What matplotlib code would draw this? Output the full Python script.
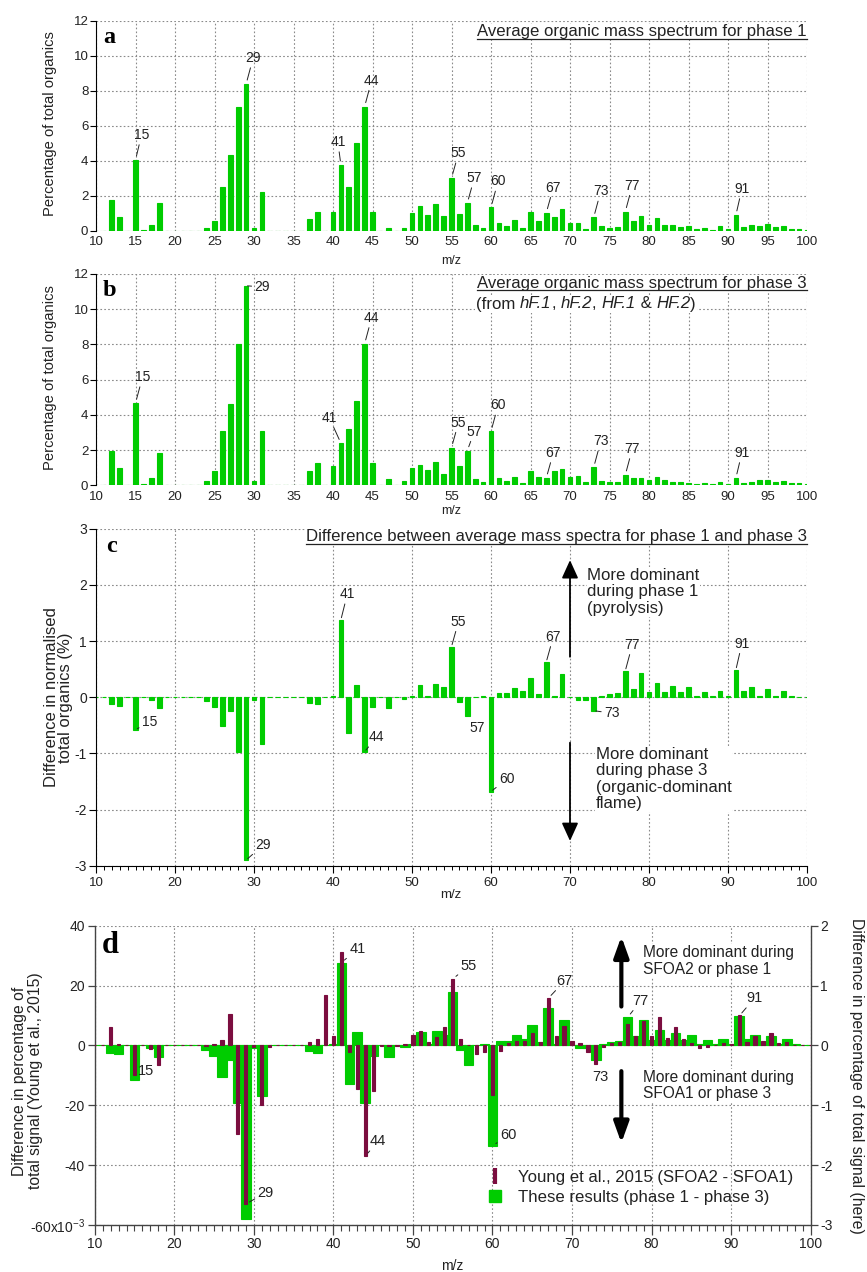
import numpy as np
import matplotlib
matplotlib.use('Agg')
import matplotlib.pyplot as plt
from matplotlib.lines import Line2D
from matplotlib.ticker import MultipleLocator, FuncFormatter
from matplotlib.offsetbox import TextArea, HPacker, AnnotationBbox

plt.rcParams['font.family'] = ['Liberation Sans', 'DejaVu Sans']
plt.rcParams['axes.unicode_minus'] = False
plt.rcParams['mathtext.fontset'] = 'custom'
plt.rcParams['mathtext.rm'] = 'Liberation Sans'
plt.rcParams['mathtext.it'] = 'Liberation Sans:italic'

# ---------------- data ----------------
mz = list(range(10, 101))

# a: average organic mass spectrum, phase 1 (% of total organics)
phase1 = [0, 0, 1.75, 0.76, 0, 4.04, 0.04, 0.32, 1.58, 0,
          0, 0, 0, 0, 0.13, 0.53, 2.5, 4.3, 7.09, 8.38,
          0.13, 2.19, 0, 0, 0, 0, 0, 0.65, 1.09, 0,
          1.09, 3.75, 2.5, 4.99, 7.09, 1.09, 0, 0.13, 0, 0.13,
          1.03, 1.39, 0.9, 1.52, 0.84, 3.0, 0.95, 1.58, 0.32, 0.15,
          1.33, 0.46, 0.27, 0.59, 0.15, 1.09, 0.53, 1.03, 0.76, 1.26,
          0.46, 0.46, 0.08, 0.76, 0.27, 0.15, 0.21, 1.09, 0.53, 0.84,
          0.32, 0.7, 0.32, 0.32, 0.21, 0.27, 0.08, 0.13, 0.04, 0.27,
          0.08, 0.9, 0.21, 0.32, 0.27, 0.38, 0.21, 0.27, 0.08, 0.08,
          0.04]

# b: average organic mass spectrum, phase 3
phase3 = [0, 0, 1.97, 0.97, 0, 4.67, 0.06, 0.4, 1.84, 0,
          0, 0, 0, 0, 0.23, 0.8, 3.07, 4.61, 8.03, 11.33,
          0.25, 3.07, 0, 0, 0, 0, 0, 0.8, 1.29, 0,
          1.1, 2.39, 3.19, 4.8, 8.03, 1.29, 0, 0.34, 0, 0.25,
          0.97, 1.16, 0.85, 1.35, 0.66, 2.14, 1.1, 1.97, 0.34, 0.17,
          3.06, 0.4, 0.25, 0.47, 0.11, 0.8, 0.47, 0.42, 0.8, 0.91,
          0.47, 0.53, 0.17, 1.02, 0.23, 0.17, 0.17, 0.59, 0.42, 0.42,
          0.3, 0.47, 0.3, 0.17, 0.17, 0.11, 0.06, 0.11, 0.06, 0.17,
          0.06, 0.42, 0.11, 0.17, 0.3, 0.3, 0.17, 0.23, 0.11, 0.11,
          0.06]

# c / d(right axis): difference phase 1 - phase 3 (%)
diff_here = [0, 0, -0.12, -0.15, 0, -0.58, 0, -0.05, -0.2, 0,
             0, 0, 0, 0, -0.07, -0.18, -0.52, -0.24, -0.97, -2.9,
             -0.05, -0.84, 0, 0, 0, 0, 0, -0.1, -0.12, 0,
             0.03, 1.38, -0.64, 0.22, -0.97, -0.18, 0, -0.2, 0, -0.03,
             0.03, 0.22, 0.03, 0.24, 0.18, 0.9, -0.08, -0.33, 0, 0.02,
             -1.68, 0.07, 0.07, 0.17, 0.11, 0.34, 0.05, 0.63, 0.02, 0.42,
             0, -0.05, -0.05, -0.24, 0.02, 0.05, 0.08, 0.47, 0.15, 0.43,
             0.09, 0.26, 0.09, 0.2, 0.09, 0.18, 0.02, 0.09, 0.02, 0.11,
             0.02, 0.49, 0.11, 0.18, 0.02, 0.15, 0.02, 0.11, 0.02, 0.01,
             0.01]

# d(left axis): Young et al., 2015 (SFOA2 - SFOA1), units of 1e-3
young2015 = [0, 0, 6.2, 0.4, 0, -10, 0, -1.3, -6.6, 0,
             0, 0, 0.2, 0, -0.3, 0.4, 1.9, 10.6, -29.6, -53,
             -0.4, -20, -0.5, 0, 0, 0, 0, 1.1, 2.2, 16.8,
             3, 31.3, -2.3, -14.6, -37, -15.3, -0.3, -0.3, -0.2, 0.4,
             3.6, 4.7, 1.3, 2.7, 6.1, 22.2, 2.1, 0.3, -2.9, -2.3,
             -16.7, -2, 0.8, 1.4, 1.4, 4, 1, 15.7, 3.2, 6.6,
             1.4, 0.8, -2.3, -6.1, -0.5, 0.7, 1.3, 7.2, 3.2, 8.3,
             3, 9.4, 2.6, 6.2, 2.1, 0.8, -0.9, -0.4, 0.2, 0.8,
             0.4, 10.2, 1.3, 3, 1.6, 4.1, 0.8, 1, 0.2, 0,
             0]
young_scale = 1e-3

# ---------------- style ----------------
GREEN = '#00cc00'
MAROON = '#7b0d3f'
GRID = '#8a8a8a'
TXT = '#222222'
W, H = 867, 1272
TITLE_FS = 12.1

fig = plt.figure(figsize=(W / 100, H / 100), dpi=100)


def rect(l, r, t, b):
    return [l / W, 1 - b / H, (r - l) / W, (b - t) / H]


def gridstyle(ax):
    ax.grid(True, color=GRID, linestyle=(0, (1.5, 2.0)), linewidth=0.8)
    ax.set_axisbelow(True)


def peak(ax, text, x, y, dx, dy, line=True, fs=10, shrinkB=3.0):
    kw = {}
    if line:
        kw['arrowprops'] = dict(arrowstyle='-', lw=0.7, color=TXT,
                                shrinkA=0, shrinkB=shrinkB)
    ax.annotate(text, xy=(x, y), xytext=(dx * 0.72, -dy * 0.72),
                textcoords='offset points', ha='center', va='center',
                fontsize=fs, color=TXT, zorder=5, **kw)


underline_texts = []


def spectrum_axes(r):
    ax = fig.add_axes(r)
    ax.set_xlim(10, 100)
    ax.set_ylim(0, 12)
    ax.xaxis.set_major_locator(MultipleLocator(5))
    ax.yaxis.set_major_locator(MultipleLocator(2))
    for s in ['top', 'right', 'bottom']:
        ax.spines[s].set_visible(False)
    ax.spines['left'].set_color('black')
    ax.tick_params(axis='x', length=0, pad=4, labelsize=9.5, labelcolor=TXT)
    ax.tick_params(axis='y', length=4, width=0.8, pad=1.5, labelsize=9.5,
                   direction='out', labelcolor=TXT)
    gridstyle(ax)
    return ax


# ---------------- panel a ----------------
ax_a = spectrum_axes(rect(96, 807, 20.7, 230.7))
ax_a.bar(mz, phase1, width=0.6, color=GREEN, edgecolor=GREEN, linewidth=0.8, zorder=2)
ax_a.text(0.010, 0.922, 'a', transform=ax_a.transAxes, fontsize=17.5,
          fontweight='bold', family='Liberation Serif', va='center', ha='left')
t = ax_a.text(1.0, 0.947, 'Average organic mass spectrum for phase 1',
              transform=ax_a.transAxes, ha='right', va='center', fontsize=TITLE_FS, color=TXT,
              bbox=dict(facecolor='white', edgecolor='none', pad=0.5))
underline_texts.append(t)
fig.text(50 / W, 1 - 124 / H, 'Percentage of total organics', rotation=90,
         ha='center', va='center', fontsize=10.6, color=TXT)
fig.text(451 / W, 1 - 261 / H, 'm/z', ha='center', va='center', fontsize=9, color=TXT)

for lab, x, y, dx, dy in [('15', 15, 4.04, 6, -25), ('29', 29, 8.38, 7, -26),
                          ('41', 41, 3.75, -3, -23), ('44', 44, 7.09, 7, -26),
                          ('55', 55, 3.0, 7, -25), ('57', 57, 1.58, 7, -25),
                          ('60', 60, 1.33, 7, -26), ('67', 67, 1.03, 7, -25),
                          ('73', 73, 0.76, 7, -26), ('77', 77, 1.09, 7, -26),
                          ('91', 91, 0.9, 6, -26)]:
    peak(ax_a, lab, x, y, dx, dy)

# ---------------- panel b ----------------
ax_b = spectrum_axes(rect(96, 807, 274, 485.3))
ax_b.bar(mz, phase3, width=0.6, color=GREEN, edgecolor=GREEN, linewidth=0.8, zorder=2)
ax_b.text(0.010, 0.921, 'b', transform=ax_b.transAxes, fontsize=17.5,
          fontweight='bold', family='Liberation Serif', va='center', ha='left')
t = ax_b.text(1.0, (485.3 - 283.3) / 211.3, 'Average organic mass spectrum for phase 3',
              transform=ax_b.transAxes, ha='right', va='center', fontsize=TITLE_FS, color=TXT,
              bbox=dict(facecolor='white', edgecolor='none', pad=0.5))
underline_texts.append(t)

pieces = [('(from ', 'normal'), ('hF.1', 'italic'), (', ', 'normal'), ('hF.2', 'italic'),
          (', ', 'normal'), ('HF.1', 'italic'), (' & ', 'normal'), ('HF.2', 'italic'),
          (')', 'normal')]
areas = [TextArea(s, textprops=dict(fontsize=TITLE_FS, style=st, color=TXT)) for s, st in pieces]
pack = HPacker(children=areas, pad=0, sep=0, align='baseline')
ab = AnnotationBbox(pack, ((476 - 96) / 711, (485.3 - 304) / 211.3), xycoords=ax_b.transAxes,
                    box_alignment=(0, 0.5), frameon=True, pad=0.1,
                    bboxprops=dict(facecolor='white', edgecolor='none'))
ax_b.add_artist(ab)

fig.text(50 / W, 1 - 378 / H, 'Percentage of total organics', rotation=90,
         ha='center', va='center', fontsize=10.6, color=TXT)
fig.text(451 / W, 1 - 511 / H, 'm/z', ha='center', va='center', fontsize=9, color=TXT)

for lab, x, y, dx, dy in [('15', 15, 4.67, 7, -26), ('41', 41, 2.39, -11.6, -25.6),
                          ('44', 44, 8.03, 7, -26), ('55', 55, 2.14, 7, -25),
                          ('57', 57, 1.97, 7, -19), ('60', 60, 3.06, 7, -26),
                          ('67', 67, 0.42, 7, -25), ('73', 73, 1.02, 7, -26),
                          ('77', 77, 0.59, 7, -26), ('91', 91, 0.42, 6, -25)]:
    peak(ax_b, lab, x, y, dx, dy)
peak(ax_b, '29', 29, 11.33, 16, 1, shrinkB=1.0)

# ---------------- panel c ----------------
ax_c = fig.add_axes(rect(96, 807, 528.7, 865.7))
ax_c.set_xlim(10, 100)
ax_c.set_ylim(-3, 3)
ax_c.xaxis.set_major_locator(MultipleLocator(10))
ax_c.xaxis.set_minor_locator(MultipleLocator(1))
ax_c.yaxis.set_major_locator(MultipleLocator(1))
for s in ['top', 'right']:
    ax_c.spines[s].set_visible(False)
ax_c.spines['left'].set_color('black')
ax_c.spines['bottom'].set_color('black')
ax_c.tick_params(axis='x', which='major', length=5, width=0.8, pad=3, labelsize=9.5, labelcolor=TXT)
ax_c.tick_params(axis='x', which='minor', length=3, width=0.7)
ax_c.tick_params(axis='y', length=5, width=0.8, pad=1.5, labelsize=10, labelcolor=TXT)
gridstyle(ax_c)
ax_c.grid(False, which='minor')
ax_c.bar(mz, diff_here, width=0.6, color=GREEN, edgecolor=GREEN, linewidth=0.8, zorder=2)
ax_c.text(0.014, 0.947, 'c', transform=ax_c.transAxes, fontsize=17.5,
          fontweight='bold', family='Liberation Serif', va='center', ha='left')
t = ax_c.text(1.0, (865.7 - 537) / 337,
              'Difference between average mass spectra for phase 1 and phase 3',
              transform=ax_c.transAxes, ha='right', va='center', fontsize=TITLE_FS, color=TXT,
              bbox=dict(facecolor='white', edgecolor='none', pad=0.5))
underline_texts.append(t)
fig.text(58.5 / W, 1 - 697.5 / H, 'Difference in normalised\ntotal organics (%)', rotation=90,
         ha='center', va='center', fontsize=12, color=TXT, linespacing=0.95)
fig.text(451 / W, 1 - 895 / H, 'm/z', ha='center', va='center', fontsize=9.5, color=TXT)

for lab, x, y, dx, dy in [('15', 15, -0.58, 14, -8), ('29', 29, -2.9, 17, -15),
                          ('41', 41, 1.38, 6.4, -25.5), ('44', 44, -0.97, 12, -14.5),
                          ('55', 55, 0.9, 7, -25), ('60', 60, -1.68, 15.7, -12.4),
                          ('67', 67, 0.63, 7, -25), ('73', 73, -0.24, 18, 2.5),
                          ('77', 77, 0.47, 7, -26), ('91', 91, 0.49, 6, -26)]:
    peak(ax_c, lab, x, y, dx, dy, shrinkB=1.5)
peak(ax_c, '57', 57, -0.33, 9.4, 12, line=False)

ax_c.annotate('', xy=(70, 2.44), xytext=(70, 0.72),
              arrowprops=dict(arrowstyle='-|>,head_length=1.1,head_width=0.5', lw=1.3,
                              color='black', mutation_scale=10, shrinkA=0, shrinkB=0))
ax_c.annotate('', xy=(70, -2.56), xytext=(70, -0.81),
              arrowprops=dict(arrowstyle='-|>,head_length=1.1,head_width=0.5', lw=1.3,
                              color='black', mutation_scale=10, shrinkA=0, shrinkB=0))
ax_c.text(72.2, 2.3, 'More dominant\nduring phase 1\n(pyrolysis)', ha='left', va='top',
          fontsize=TITLE_FS, color=TXT, linespacing=1.12, zorder=4,
          bbox=dict(facecolor='white', edgecolor='none', pad=0.5))
ax_c.text(73.3, -0.88, 'More dominant\nduring phase 3\n(organic-dominant\nflame)', ha='left',
          va='top', fontsize=TITLE_FS, color=TXT, linespacing=1.12, zorder=4,
          bbox=dict(facecolor='white', edgecolor='none', pad=0.5))

# ---------------- panel d ----------------
ax_d = fig.add_axes(rect(94.7, 810.7, 925.7, 1225))
ax_d.set_xlim(10, 100)
ax_d.set_ylim(-3, 2)
ax_d.xaxis.set_major_locator(MultipleLocator(10))
ax_d.xaxis.set_minor_locator(MultipleLocator(1))
ax_d.yaxis.set_major_locator(MultipleLocator(1))
gridstyle(ax_d)
ax_d.grid(False, which='minor')
ax_d.bar(mz, diff_here, width=1.2, color=GREEN, edgecolor=GREEN, linewidth=0.8, zorder=2)
ax_d.spines['top'].set_visible(False)
for s in ['left', 'right', 'bottom']:
    ax_d.spines[s].set_color('#444444')
    ax_d.spines[s].set_linewidth(1.0)

ax_m = ax_d.twinx()
ax_m.bar(mz, [v * young_scale for v in young2015], width=0.4, color=MAROON,
         edgecolor=MAROON, linewidth=0.8, zorder=3)
ax_m.set_ylim(-0.06, 0.04)
ax_m.yaxis.set_major_locator(MultipleLocator(0.02))
for s in ax_m.spines.values():
    s.set_visible(False)


def young_fmt(v, pos):
    n = int(round(v * 1000))
    if n == -60:
        return r'-60x10$^{\mathregular{-3}}$'
    return f'{n}'


ax_m.yaxis.set_major_formatter(FuncFormatter(young_fmt))
ax_d.yaxis.tick_right()
ax_d.yaxis.set_label_position('right')
ax_m.yaxis.tick_left()
ax_m.yaxis.set_label_position('left')
ax_d.tick_params(axis='x', which='major', length=7, width=0.9, pad=2, labelsize=10,
                 labelcolor=TXT, color='#444444')
ax_d.tick_params(axis='x', which='minor', length=4, width=0.8, color='#444444')
ax_d.tick_params(axis='y', length=5, width=0.9, pad=2, labelsize=10, labelcolor=TXT,
                 color='#444444')
ax_m.tick_params(axis='y', length=5, width=0.9, pad=2, labelsize=10, labelcolor=TXT,
                 color='#444444')

ax_d.text(0.01, 0.933, 'd', transform=ax_d.transAxes, fontsize=22,
          fontweight='bold', family='Liberation Serif', va='center', ha='left', zorder=6)

fig.text(27.5 / W, 1 - 1081 / H, 'Difference in percentage of\ntotal signal (Young et al., 2015)',
         rotation=90, ha='center', va='center', fontsize=11.3, color=TXT, linespacing=1.15)
fig.text(856.7 / W, 1 - 1075.5 / H, 'Difference in percentage of total signal (here)',
         rotation=-90, ha='center', va='center', fontsize=11.3, color=TXT)
fig.text(452 / W, 1 - 1266 / H, 'm/z', ha='center', va='center', fontsize=10, color=TXT)

for lab, x, y, dx, dy in [('41', 41, 1.38, 16, -14), ('60', 60, -1.68, 15.6, -11),
                          ('77', 77, 0.47, 13, -16.5), ('91', 91, 0.49, 15.5, -18)]:
    peak(ax_d, lab, x, y, dx, dy, fs=10.5, shrinkB=3)
peak(ax_d, '15', 15, -0.58, 12, -9, line=False, fs=10.5)
for lab, x, y, dx, dy in [('29', 29, -53e-3, 19.8, -11.4), ('44', 44, -37e-3, 13, -15),
                          ('55', 55, 22.2e-3, 16, -13), ('67', 67, 15.7e-3, 16.6, -17.6)]:
    peak(ax_m, lab, x, y, dx, dy, fs=10.5, shrinkB=3)
peak(ax_m, '73', 73, -6.1e-3, 4.5, 13.3, line=False, fs=10.5)

ax_m.annotate('', xy=(76.2, 0.0364), xytext=(76.2, 0.013),
              arrowprops=dict(arrowstyle='-|>,head_length=1.25,head_width=0.45', lw=3,
                              color='black', mutation_scale=10, shrinkA=0, shrinkB=0))
ax_m.annotate('', xy=(76.2, -0.0326), xytext=(76.2, -0.0086),
              arrowprops=dict(arrowstyle='-|>,head_length=1.25,head_width=0.45', lw=3,
                              color='black', mutation_scale=10, shrinkA=0, shrinkB=0))
ax_m.text(78.9, 0.0336, 'More dominant during\nSFOA2 or phase 1', ha='left', va='top',
          fontsize=11.2, color=TXT, linespacing=1.15, zorder=4,
          bbox=dict(facecolor='white', edgecolor='none', pad=0.5))
ax_m.text(78.9, -0.0081, 'More dominant during\nSFOA1 or phase 3', ha='left', va='top',
          fontsize=11.2, color=TXT, linespacing=1.15, zorder=4,
          bbox=dict(facecolor='white', edgecolor='none', pad=0.5))

handles = [Line2D([], [], marker='|', markersize=11, markeredgewidth=3, color=MAROON, linestyle='none'),
           Line2D([], [], marker='s', markersize=8, color=GREEN, linestyle='none')]
fig.legend(handles, ['Young et al., 2015 (SFOA2 - SFOA1)', 'These results (phase 1 - phase 3)'],
           loc='upper left', bbox_to_anchor=(487 / W, 1 - 1170 / H), frameon=False,
           fontsize=12.1, handlelength=1.0, handletextpad=0.85, labelspacing=0.3,
           borderpad=0, borderaxespad=0, labelcolor=TXT)

# underline titles
fig.canvas.draw()
inv = fig.transFigure.inverted()
for t in underline_texts:
    t.set_bbox(None)
    bb = t.get_window_extent()
    (x0, y0), (x1, _) = inv.transform([(bb.x0, bb.y0), (bb.x1, bb.y1)])
    fig.add_artist(Line2D([x0, x1], [y0 + 0.4 / H, y0 + 0.4 / H], transform=fig.transFigure,
                          color=TXT, lw=0.9))
    t.set_bbox(dict(facecolor='white', edgecolor='none', pad=0.5))

fig.savefig('out.png', dpi=100)
